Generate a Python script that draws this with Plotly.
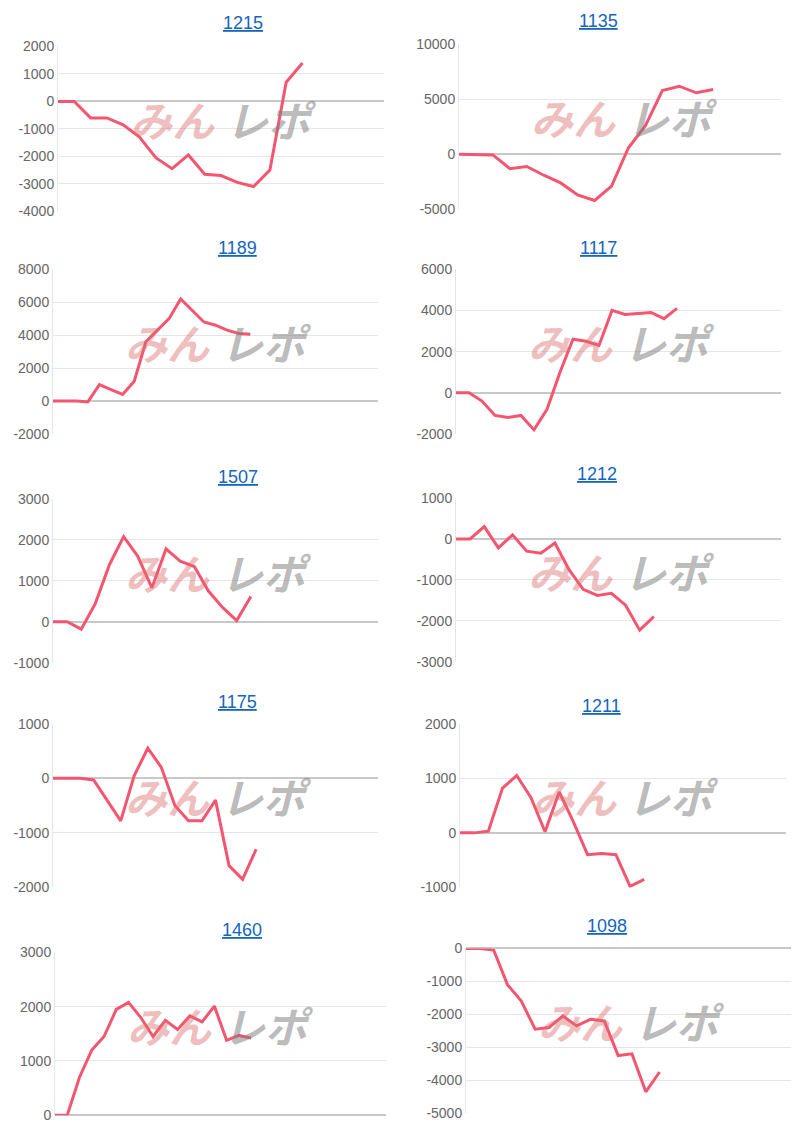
import plotly.graph_objects as go

# 台番号ごとの差枚推移
titles = ['1215', '1135', '1189', '1117', '1507', '1212', '1175', '1211', '1460', '1098']

d1215 = [0, 0, -600, -600, -850, -1300, -2050, -2450, -1950, -2650, -2700, -2950, -3100, -2500, 700, 1400]
d1135 = [0, 0, -50, -1300, -1100, -1900, -2600, -3700, -4200, -2900, 600, 2600, 5800, 6200, 5600, 5900]
d1189 = [0, 0, 0, -50, 1000, 700, 400, 1200, 3600, 4300, 5000, 6200, 5500, 4800, 4600, 4300, 4100, 4050]
d1117 = [0, 0, -400, -1100, -1200, -1100, -1800, -800, 1000, 2600, 2500, 2300, 4000, 3800, 3850, 3900, 3600, 4100]
d1507 = [0, 0, -180, 450, 1400, 2080, 1600, 830, 1780, 1480, 1350, 750, 350, 30, 620]
d1212 = [0, 0, 300, -220, 100, -300, -350, -100, -750, -1230, -1380, -1330, -1620, -2230, -1900]
d1175 = [0, 0, 0, -30, -400, -780, 50, 550, 200, -500, -780, -780, -400, -1600, -1850, -1300]
d1211 = [0, 0, 30, 820, 1050, 650, 20, 750, 200, -400, -380, -400, -980, -850]
d1460 = [0, 0, 700, 1200, 1450, 1950, 2080, 1800, 1450, 1750, 1580, 1830, 1720, 2010, 1380, 1470, 1420]
d1098 = [0, 0, -50, -1100, -1600, -2450, -2400, -2050, -2350, -2150, -2200, -3250, -3200, -4350, -3750]

series = [d1215, d1135, d1189, d1117, d1507, d1212, d1175, d1211, d1460, d1098]
x_max = [20, 19, 28, 25, 23, 23, 24, 23, 27, 23.5]
y_ranges = [(-4000, 2000, 1000), (-5000, 10000, 5000), (-2000, 8000, 2000), (-2000, 6000, 2000),
            (-1000, 3000, 1000), (-3000, 1000, 1000), (-2000, 1000, 1000), (-1000, 2000, 1000),
            (0, 3000, 1000), (-5000, 0, 1000)]

# plot area in pixels: x0, x1, y_top, y_bottom, title y
boxes = [(57, 383, 45, 210, 22), (458, 780, 43, 208, 20),
         (52, 377, 268, 433, 247), (455, 780, 268, 433, 247),
         (52, 377, 498, 662, 476), (455, 780, 497, 661, 473),
         (52, 377, 723, 887, 701), (459, 785, 723, 887, 705),
         (54, 385, 952, 1115, 930), (465, 790, 948, 1113, 926)]

W, H = 801, 1130


def px_x(x):
    return (x - 7) / W


def px_y(y):
    return 1 - ((y - 14.5) / 0.987) / H


fig = go.Figure()
annotations = []
for i, (t, ys) in enumerate(zip(titles, series)):
    x0, x1, yt, yb, ty = boxes[i]
    n = '' if i == 0 else str(i + 1)
    fig.add_trace(go.Scatter(x=list(range(len(ys))), y=ys, mode='lines',
                             line=dict(color='#f4566f', width=3),
                             xaxis='x' + n, yaxis='y' + n, showlegend=False))
    lo, hi, step = y_ranges[i]
    tv = list(range(lo, hi + 1, step))
    fig.update_layout(**{
        'xaxis' + n: dict(domain=[px_x(x0), px_x(x1)], range=[0, x_max[i]], showticklabels=False,
                          showgrid=False, zeroline=False, showline=False, anchor='y' + n),
        'yaxis' + n: dict(domain=[px_y(yb), px_y(yt)], range=[lo, hi], tickvals=tv,
                          ticktext=[str(v) for v in tv],
                          showgrid=True, gridcolor='#e6e6e6', zeroline=True, zerolinecolor='#c8c8c8',
                          zerolinewidth=1.5, showline=True, linecolor='#e6e6e6',
                          tickfont=dict(size=14, color='#666666'), anchor='x' + n),
    })
    cx = (px_x(x0) + px_x(x1)) / 2
    annotations.append(dict(text='<u>' + t + '</u>', x=cx, y=px_y(ty), xref='paper', yref='paper',
                            yanchor='middle', showarrow=False, font=dict(size=18, color='#1565c0')))
    # watermark
    wy = px_y(yt + (yb - yt) * 0.44)
    annotations.append(dict(text='<b><i>みん</i></b>', x=px_x(x0 + 70), y=wy, xref='paper', yref='paper',
                            xanchor='left', yanchor='middle', showarrow=False,
                            font=dict(size=42, color='rgba(220,110,110,0.45)', family='Noto Sans CJK JP')))
    annotations.append(dict(text='<b><i>レポ</i></b>', x=px_x(x0 + 166), y=wy, xref='paper', yref='paper',
                            xanchor='left', yanchor='middle', showarrow=False,
                            font=dict(size=42, color='rgba(130,130,130,0.55)', family='Noto Sans CJK JP')))

fig.update_layout(width=W, height=H, margin=dict(l=0, r=0, t=0, b=0),
                  paper_bgcolor='white', plot_bgcolor='white',
                  font=dict(family='Arial, Liberation Sans'), annotations=annotations)
fig.write_html('out.html')
